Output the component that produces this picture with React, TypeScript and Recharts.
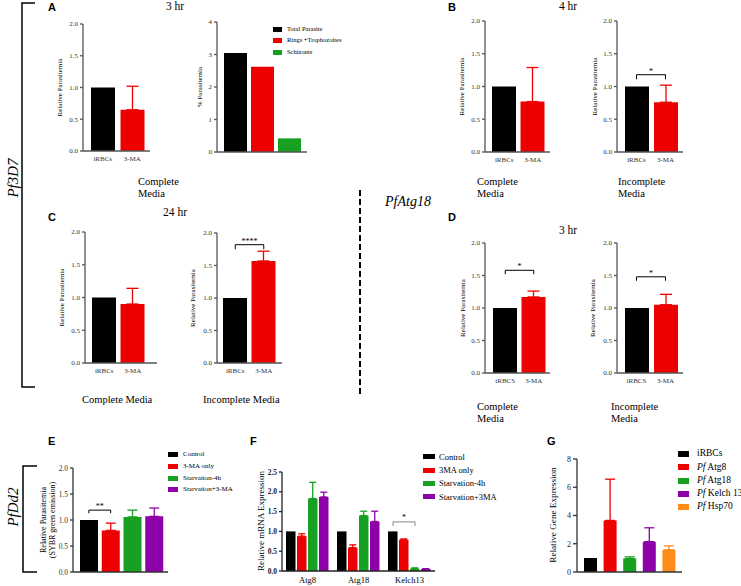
import React from "react";
import { Bar, BarChart, ErrorBar, Legend, ReferenceLine, XAxis, YAxis } from "recharts";

const SERIF = '"Liberation Serif", "Times New Roman", serif';
const SANS = '"Liberation Sans", Arial, sans-serif';

const BLACK = "#000000";
const RED = "#ee0000";
const GREEN = "#17a021";
const PURPLE = "#8e00a8";
const ORANGE = "#ff8c1a";

// A-D: iRBCs vs 3-MA, relative parasitemia (mean, SD)
const pairLabels = ["iRBCs", "3-MA"];
const pairLabelsD = ["iRBCS", "3-MA"];
const a3hMeans = [1.0, 0.65];
const a3hSd = [0, 0.37];
const b4hCompleteMeans = [1.0, 0.77];
const b4hCompleteSd = [0, 0.52];
const b4hIncompleteMeans = [1.0, 0.76];
const b4hIncompleteSd = [0, 0.26];
const c24hCompleteMeans = [1.0, 0.9];
const c24hCompleteSd = [0, 0.24];
const c24hIncompleteMeans = [1.0, 1.57];
const c24hIncompleteSd = [0, 0.15];
const d3hCompleteMeans = [1.0, 1.17];
const d3hCompleteSd = [0, 0.09];
const d3hIncompleteMeans = [1.0, 1.05];
const d3hIncompleteSd = [0, 0.16];

// A right: % parasitemia by stage
const stageNames = ["Total Parasite", "Rings +Trophozoites", "Schizonts"];
const stageValues = [3.05, 2.62, 0.42];

// E: PfDd2 SYBR green
const eGroups = ["Control", "3-MA only", "Starvation-4h", "Starvation+3-MA"];
const eMeans = [1.0, 0.8, 1.06, 1.07];
const eSd = [0, 0.14, 0.13, 0.16];

// F: relative mRNA expression
const fGenes = ["Atg8", "Atg18", "Kelch13"];
const fGroups = ["Control", "3MA only", "Starvation-4h", "Starvation+3MA"];
const fControl = [1.0, 1.0, 1.0];
const f3ma = [0.88, 0.59, 0.79];
const f3maSd = [0.06, 0.07, 0.02];
const fStarv = [1.83, 1.4, 0.06];
const fStarvSd = [0.41, 0.11, 0.02];
const fStarv3ma = [1.87, 1.25, 0.05];
const fStarv3maSd = [0.12, 0.26, 0.01];

// G: relative gene expression
const gGenes = ["iRBCs", "Pf Atg8", "Pf Atg18", "Pf Kelch 13", "Pf Hsp70"];
const gMeans = [1.0, 3.65, 0.95, 2.15, 1.57];
const gSd = [0, 2.92, 0.12, 0.98, 0.28];

const ticks2 = [0, 0.5, 1, 1.5, 2];
const ticks4 = [0, 1, 2, 3, 4];
const ticks25 = [0, 0.5, 1, 1.5, 2, 2.5];
const ticks8 = [0, 2, 4, 6, 8];

type Row = Record<string, string | number | number[] | undefined>;

function perCategory(cats: string[], keys: string[], means: number[], sds: number[]): Row[] {
  return cats.map((cat, i) => ({
    cat,
    [keys[i]]: means[i],
    [`${keys[i]}Err`]: sds[i] > 0 ? [0, sds[i]] : undefined,
  }));
}

const pairKeys = ["ctrl", "drug"];
const pairSeries = [
  { key: "ctrl", name: "iRBCs", color: BLACK },
  { key: "drug", name: "3-MA", color: RED, err: true },
];

const stageData: Row[] = [{ cat: "", total: stageValues[0], rings: stageValues[1], schiz: stageValues[2] }];
const stageSeries = [
  { key: "total", name: stageNames[0], color: BLACK },
  { key: "rings", name: stageNames[1], color: RED },
  { key: "schiz", name: stageNames[2], color: GREEN },
];

const eKeys = ["ctrl", "ma", "starv", "both"];
const eSeries = eGroups.map((name, i) => ({ key: eKeys[i], name, color: [BLACK, RED, GREEN, PURPLE][i], err: eSd[i] > 0 }));

const fData: Row[] = fGenes.map((cat, i) => ({
  cat,
  ctrl: fControl[i],
  ma: f3ma[i],
  maErr: [0, f3maSd[i]],
  starv: fStarv[i],
  starvErr: [0, fStarvSd[i]],
  both: fStarv3ma[i],
  bothErr: [0, fStarv3maSd[i]],
}));
const fSeries = fGroups.map((name, i) => ({ key: eKeys[i], name, color: [BLACK, RED, GREEN, PURPLE][i], err: i > 0 }));

const gKeys = ["irbc", "atg8", "atg18", "kelch", "hsp"];
const gSeries = gGenes.map((name, i) => ({ key: gKeys[i], name, color: [BLACK, RED, GREEN, PURPLE, ORANGE][i], err: gSd[i] > 0 }));

interface SeriesDef { key: string; name: string; color: string; err?: boolean }
interface SigDef { from: string; to: string; y: number; foot: number; text: string }
// bracket inside one category group, between bar indices a and b
interface GroupSigDef { cat: string; a: number; b: number; y: number; foot: number; text: string }
interface LegendDef { x: number; y: number; sw: number; sh: number; gap: number; row: number; font: number }

interface PlotProps {
  x0: number; x1: number; top: number; bottom: number;
  data: Row[]; series: SeriesDef[]; stacked?: boolean;
  domain: [number, number]; ticks: number[]; digits: number;
  pad?: { left: number; right: number };
  barSize: number; barGap?: number; cap: number;
  showCats?: boolean; catFont?: number; catColor?: string; catGap?: number;
  tickFont: number; tickColor: string; tickWeight?: number; tickLen?: number;
  axisColor: string; axisWidth?: number;
  sigs?: SigDef[]; groupSigs?: GroupSigDef[]; sigColor?: string; starFont?: number;
  legend?: LegendDef;
  right?: number; xHeight?: number;
}

const L = 40;
const T = 14;

function speciesName(name: string) {
  if (name.startsWith("Pf ")) {
    return (
      <>
        <i>Pf</i>
        {name.slice(2)}
      </>
    );
  }
  return name;
}

// keep the legend in series order (recharts sorts by name otherwise)
function LegendList({ payload, def, order }: { payload?: any[]; def: LegendDef; order: string[] }) {
  const items = order
    .map((name) => (payload ?? []).find((item) => String(item.value) === name))
    .filter(Boolean);
  return (
    <div style={{ fontFamily: SERIF, fontSize: def.font, lineHeight: 1, color: "#000", whiteSpace: "nowrap", margin: 0, padding: 0 }}>
      {items.map((item: any) => (
        <div key={String(item.value)} style={{ height: def.row, display: "flex", alignItems: "center" }}>
          <span
            style={{ display: "inline-block", flex: "none", width: def.sw, height: def.sh, background: item.color, marginRight: def.gap }}
          />
          <span>{speciesName(String(item.value))}</span>
        </div>
      ))}
    </div>
  );
}

function Plot(p: PlotProps) {
  const R = p.right ?? 8;
  const B = p.xHeight ?? 22;
  const left = p.x0 - L;
  const topPx = p.top - T;
  const width = p.x1 - p.x0 + L + R;
  const height = p.bottom - p.top + T + B;
  const axisStyle = { stroke: p.axisColor, strokeWidth: p.axisWidth ?? 1.3 };
  const order = p.series.map((s) => s.name);
  const sigStroke = p.sigColor ?? "#000";
  const starFont = p.starFont ?? 8;
  return (
    <div style={{ position: "absolute", left, top: topPx }}>
      <BarChart
        width={width}
        height={height}
        data={p.data}
        margin={{ top: T, right: R, bottom: 0, left: 0 }}
        barGap={p.barGap ?? 0}
      >
        <XAxis
          dataKey="cat"
          height={B}
          padding={p.pad ?? { left: 0, right: 0 }}
          interval={0}
          tickLine={false}
          tickSize={0}
          tickMargin={p.catGap ?? 5}
          axisLine={axisStyle}
          tick={p.showCats ? { fontSize: p.catFont, fill: p.catColor, fontFamily: SERIF } : false}
        />
        <YAxis
          width={L}
          type="number"
          domain={p.domain}
          ticks={p.ticks}
          interval={0}
          allowDataOverflow
          tickFormatter={(v: number) => v.toFixed(p.digits)}
          tickSize={p.tickLen ?? 3}
          tickMargin={2}
          axisLine={axisStyle}
          tickLine={axisStyle}
          tick={{ fontSize: p.tickFont, fill: p.tickColor, fontFamily: SERIF, fontWeight: p.tickWeight ?? 400 }}
        />
        {p.series.map((s) => (
          <Bar
            key={s.key}
            dataKey={s.key}
            name={s.name}
            fill={s.color}
            barSize={p.barSize}
            stackId={p.stacked ? "one" : undefined}
            isAnimationActive={false}
          >
            {s.err && (
              <ErrorBar
                dataKey={`${s.key}Err`}
                direction="y"
                width={p.cap}
                stroke={s.color}
                strokeWidth={1.3}
                isAnimationActive={false}
              />
            )}
          </Bar>
        ))}
        {(p.sigs ?? []).map((g, i) => [
          <ReferenceLine
            key={`h${i}`}
            ifOverflow="visible"
            stroke={sigStroke}
            strokeWidth={1}
            segment={[{ x: g.from, y: g.y }, { x: g.to, y: g.y }]}
            label={{ value: g.text, position: "top", offset: 1, fontSize: starFont, fill: "#000", fontFamily: SERIF }}
          />,
          <ReferenceLine
            key={`l${i}`}
            ifOverflow="visible"
            stroke={sigStroke}
            strokeWidth={1}
            segment={[{ x: g.from, y: g.y }, { x: g.from, y: g.foot }]}
          />,
          <ReferenceLine
            key={`r${i}`}
            ifOverflow="visible"
            stroke={sigStroke}
            strokeWidth={1}
            segment={[{ x: g.to, y: g.y }, { x: g.to, y: g.foot }]}
          />,
        ])}
        {(p.groupSigs ?? []).map((g, i) => (
          <ReferenceLine
            key={`g${i}`}
            ifOverflow="visible"
            segment={[{ x: g.cat, y: g.y }, { x: g.cat, y: g.foot }]}
            shape={(sp: any) => {
              const pitch = p.barSize + (p.barGap ?? 0);
              const mid = (p.series.length - 1) / 2;
              const xa = sp.x1 + (g.a - mid) * pitch;
              const xb = sp.x1 + (g.b - mid) * pitch;
              const yTop = Math.min(sp.y1, sp.y2);
              const yFoot = Math.max(sp.y1, sp.y2);
              return (
                <g>
                  <path d={`M${xa},${yFoot} V${yTop} H${xb} V${yFoot}`} fill="none" stroke={sigStroke} strokeWidth={1} />
                  <text x={(xa + xb) / 2} y={yTop - 1.5} textAnchor="middle" fontSize={starFont} fontFamily={SERIF} fill="#000">
                    {g.text}
                  </text>
                </g>
              );
            }}
          />
        ))}
        {p.legend && (
          <Legend
            layout="vertical"
            align="center"
            verticalAlign="middle"
            wrapperStyle={{ left: p.legend.x - left, top: p.legend.y - topPx, width: "max-content", height: "auto", margin: 0, padding: 0 }}
            content={(props: any) => <LegendList payload={props.payload} def={p.legend as LegendDef} order={order} />}
          />
        )}
      </BarChart>
    </div>
  );
}

const pairCommon = {
  series: pairSeries,
  stacked: true,
  domain: [0, 2] as [number, number],
  ticks: ticks2,
  digits: 1,
  barSize: 24,
  cap: 6,
  showCats: true,
  catFont: 7,
  catColor: "#333",
  catGap: 5,
  tickFont: 7,
  tickColor: "#333",
  axisColor: "#555",
};

function VText({ x, y, size, italic, children }: { x: number; y: number; size: number; italic?: boolean; children: React.ReactNode }) {
  return (
    <text
      x={x}
      y={y}
      transform={`rotate(-90 ${x} ${y})`}
      textAnchor="middle"
      dominantBaseline="central"
      fontSize={size}
      fontFamily={SERIF}
      fontStyle={italic ? "italic" : "normal"}
      fill="#000"
    >
      {children}
    </text>
  );
}

function Txt({ x, y, size, children, anchor = "start", bold, font = SERIF }: any) {
  return (
    <text x={x} y={y} fontSize={size} fontFamily={font} fontWeight={bold ? 700 : 400} textAnchor={anchor} fill="#000">
      {children}
    </text>
  );
}

export default function App() {
  return (
    <div style={{ position: "absolute", left: 0, top: 0, width: 741, height: 586, background: "#fff", overflow: "hidden" }}>
      <Plot {...pairCommon} x0={83} x1={150} top={24} bottom={151} pad={{ left: 5, right: 3 }}
        data={perCategory(pairLabels, pairKeys, a3hMeans, a3hSd)} />
      <Plot x0={217} x1={307} top={22} bottom={152} data={stageData} series={stageSeries}
        domain={[0, 4]} ticks={ticks4} digits={0} barSize={23} barGap={4} cap={5}
        tickFont={7} tickColor="#333" axisColor="#555" right={50}
        legend={{ x: 273, y: 23.25, sw: 9, sh: 5, gap: 5, row: 11.5, font: 6.5 }} />
      <Plot {...pairCommon} x0={485} x1={550} top={21} bottom={152} pad={{ left: 5, right: 3 }}
        data={perCategory(pairLabels, pairKeys, b4hCompleteMeans, b4hCompleteSd)} />
      <Plot {...pairCommon} x0={617} x1={683} top={21} bottom={152} pad={{ left: 5, right: 3 }}
        data={perCategory(pairLabels, pairKeys, b4hIncompleteMeans, b4hIncompleteSd)}
        sigs={[{ from: "iRBCs", to: "3-MA", y: 1.18, foot: 1.11, text: "*" }]} />
      <Plot {...pairCommon} x0={85} x1={157} top={232} bottom={363} pad={{ left: 5, right: 10 }}
        data={perCategory(pairLabels, pairKeys, c24hCompleteMeans, c24hCompleteSd)} />
      <Plot {...pairCommon} x0={217} x1={282} top={233} bottom={363} pad={{ left: 4, right: 4 }}
        data={perCategory(pairLabels, pairKeys, c24hIncompleteMeans, c24hIncompleteSd)}
        sigs={[{ from: "iRBCs", to: "3-MA", y: 1.82, foot: 1.75, text: "****" }]} />
      <Plot {...pairCommon} x0={485} x1={550} top={243} bottom={373} pad={{ left: 6, right: 2 }}
        data={perCategory(pairLabelsD, pairKeys, d3hCompleteMeans, d3hCompleteSd)}
        sigs={[{ from: "iRBCS", to: "3-MA", y: 1.58, foot: 1.52, text: "*" }]} />
      <Plot {...pairCommon} x0={617} x1={683} top={243} bottom={373} pad={{ left: 5, right: 3 }}
        data={perCategory(pairLabelsD, pairKeys, d3hIncompleteMeans, d3hIncompleteSd)}
        sigs={[{ from: "iRBCS", to: "3-MA", y: 1.48, foot: 1.42, text: "*" }]} />

      <Plot x0={73} x1={168} top={468} bottom={572} data={perCategory(eGroups, eKeys, eMeans, eSd)} series={eSeries}
        stacked domain={[0, 2]} ticks={ticks2} digits={1} pad={{ left: 5, right: 3 }} barSize={18} cap={5}
        tickFont={7.5} tickColor="#333" axisColor="#333" right={72} xHeight={10}
        sigs={[{ from: "Control", to: "3-MA only", y: 1.19, foot: 1.13, text: "**" }]}
        legend={{ x: 168, y: 449, sw: 10, sh: 5, gap: 5, row: 11.7, font: 7 }} />
      <Plot x0={282} x1={435} top={472} bottom={571} data={fData} series={fSeries}
        domain={[0, 2.5]} ticks={ticks25} digits={1} barSize={9.5} barGap={1.5} cap={3.5}
        showCats catFont={8.5} catColor="#000" catGap={6} right={66} xHeight={14}
        tickFont={7.5} tickWeight={700} tickColor="#222" axisColor="#222"
        groupSigs={[{ cat: "Kelch13", a: 0, b: 2, y: 1.24, foot: 1.14, text: "*" }]} sigColor="#888"
        legend={{ x: 423, y: 450.3, sw: 12, sh: 5, gap: 4, row: 13.3, font: 8.5 }} />
      <Plot x0={577} x1={682} top={459} bottom={572} data={perCategory(gGenes, gKeys, gMeans, gSd)} series={gSeries}
        stacked domain={[0, 8]} ticks={ticks8} digits={0} pad={{ left: 4, right: 3 }} barSize={13} cap={5}
        tickFont={8} tickLen={4} tickColor="#222" axisColor="#333" right={59} xHeight={10}
        legend={{ x: 678, y: 447.4, sw: 11, sh: 6, gap: 8, row: 13.25, font: 9.5 }} />

      <svg width={741} height={586} style={{ position: "absolute", left: 0, top: 0, pointerEvents: "none" }}>
        <path d="M35,3 H22 V387 H35" fill="none" stroke="#000" strokeWidth={1.5} />
        <path d="M37,466 H23 V572 H37" fill="none" stroke="#000" strokeWidth={1.5} />
        <line x1={360} y1={190} x2={360} y2={397} stroke="#000" strokeWidth={2} strokeDasharray="6 3" />
        <VText x={13} y={178} size={15} italic>Pf3D7</VText>
        <VText x={13} y={507} size={15} italic>PfDd2</VText>
        <text x={385} y={206} fontSize={14} fontFamily={SERIF} fontStyle="italic" fill="#000">PfAtg18</text>

        <Txt x={48} y={11} size={11} bold font={SANS}>A</Txt>
        <Txt x={448} y={11} size={11} bold font={SANS}>B</Txt>
        <Txt x={48} y={221} size={11} bold font={SANS}>C</Txt>
        <Txt x={448} y={221} size={11} bold font={SANS}>D</Txt>
        <Txt x={48} y={445} size={11} bold font={SANS}>E</Txt>
        <Txt x={250} y={445} size={11} bold font={SANS}>F</Txt>
        <Txt x={547} y={445} size={11} bold font={SANS}>G</Txt>

        <Txt x={175} y={10} size={11.5} anchor="middle">3 hr</Txt>
        <Txt x={568} y={10} size={11.5} anchor="middle">4 hr</Txt>
        <Txt x={175} y={216} size={11.5} anchor="middle">24 hr</Txt>
        <Txt x={568} y={234} size={11.5} anchor="middle">3 hr</Txt>

        <Txt x={138} y={185} size={10.5}>Complete</Txt>
        <Txt x={138} y={197} size={10.5}>Media</Txt>
        <Txt x={477} y={185} size={10.5}>Complete</Txt>
        <Txt x={477} y={197} size={10.5}>Media</Txt>
        <Txt x={618} y={185} size={10.5}>Incomplete</Txt>
        <Txt x={618} y={197} size={10.5}>Media</Txt>
        <Txt x={82} y={403} size={10.5}>Complete Media</Txt>
        <Txt x={203} y={403} size={10.5}>Incomplete Media</Txt>
        <Txt x={477} y={410} size={10.5}>Complete</Txt>
        <Txt x={477} y={422} size={10.5}>Media</Txt>
        <Txt x={611} y={410} size={10.5}>Incomplete</Txt>
        <Txt x={611} y={422} size={10.5}>Media</Txt>

        <VText x={60} y={87.5} size={7}>Relative Parasitemia</VText>
        <VText x={200} y={87} size={7}>% Parasitemia</VText>
        <VText x={462} y={86.5} size={7}>Relative Parasitemia</VText>
        <VText x={595} y={86.5} size={7}>Relative Parasitemia</VText>
        <VText x={62} y={297.5} size={7}>Relative Parasitemia</VText>
        <VText x={193} y={298} size={7}>Relative Parasitemia</VText>
        <VText x={463} y={308} size={7}>Relative Parasitemia</VText>
        <VText x={593} y={308} size={7}>Relative Parasitemia</VText>
        <VText x={43} y={520} size={8}>Relative Parasitemia</VText>
        <VText x={52} y={520} size={8}>(SYBR green emission)</VText>
        <VText x={261} y={521} size={9}>Relative mRNA Expression</VText>
        <VText x={553} y={515} size={9.2}>Relative Gene Expression</VText>
      </svg>
    </div>
  );
}
